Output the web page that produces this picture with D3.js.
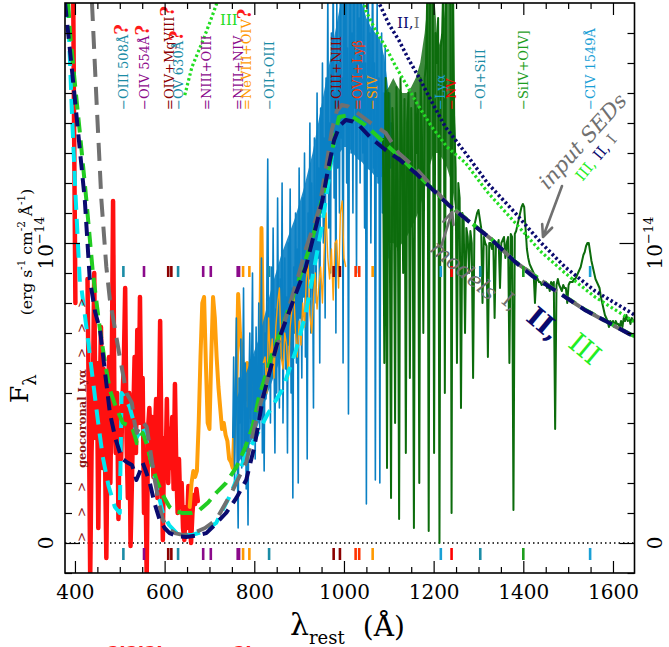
<!DOCTYPE html>
<html>
<head>
<meta charset="utf-8">
<script src="https://cdn.jsdelivr.net/npm/d3@7/dist/d3.min.js"></script>
<style>
  html,body{margin:0;padding:0;background:#fff;}
  svg{display:block;}
  text{font-family:"DejaVu Serif","Liberation Serif",serif;}
</style>
</head>
<body>
<svg id="chart" width="669" height="647"></svg>
<script>
// ---------- observed spectra: flux in 1e-14 erg s^-1 cm^-2 A^-1 on uniform wavelength grids ----------
const redStart = 386, redStep = 3;
const redFlux = [
  2.6, 2.4, 2.3, 2.1, 1.4, 0.80, null, null, null, null,
  null, null, null, null, 0.88, 0.45, -0.12, 0.30, 0.50, 0.90,
  0.35, 0.60, 0.05, 0.45, 0.72, 0.25, 0.58, 0.30, -0.05, 0.40,
  0.62, 0.20, 0.55, 1.14, 0.45, 0.30, 0.50, 0.08, 0.45, 0.28,
  0.48, 0.60, 0.85, 0.35, 0.15, 0.50, -0.01, 0.20, 0.42, 0.62,
  0.30, 0.71, 0.40, 0.82, 0.40, 0.55, 0.10, 0.30, -0.12, 0.38,
  0.45, 0.30, 0.42, 0.22, 0.35, 0.48, 0.15, 0.38, 0.74, 0.30,
  0.01, 0.35, 0.22, 0.48, 0.20, 0.38, 0.25, 0.42, 0.18, 0.53,
  0.25, 0.10, 0.28, 0.12, 0.20, 0.05, 0.01, 0.12, 0.05, 0.19,
  0.08, 0.00, 0.10, 0.16, 0.13, 0.18, 0.14
];

const orangeStart = 656, orangeStep = 4;
const orangeFlux = [
  0.12, 0.20, 0.24, 0.22, 0.24, 0.40, 0.62, 0.80, 0.82, 0.60,
  0.40, 0.38, 0.62, 0.82, 0.75, 0.62, 0.52, 0.45, 0.38, 0.40,
  0.36, 0.34, 0.28, 0.27, 0.25, 0.40, 0.51, 0.83, 0.70, 0.64,
  0.55, 0.48, 0.60, 0.42, 0.55, 0.45, 0.58, 0.42, 0.52, 0.48,
  1.05, 0.60
];

const orangeThinStart = 820, orangeThinStep = 4;
const orangeThinFlux = [
  0.60, 0.62, 0.50, 0.75, 0.60, 0.68, 0.55, 0.72, 0.80, 0.85,
  0.62, 0.58, 0.70, 0.66, 0.55, 0.72, 0.78, 0.84, 0.70, 0.62,
  0.74, 0.66, 0.80, 0.72, 0.88, 0.93, 0.76, 0.70, 0.82, 0.90,
  0.78, 0.86, 0.92, 0.80, 0.98, 1.10, 0.95, 0.88, 0.98, 0.81,
  1.00, 1.01, 0.85, 1.10, 1.14, 0.95, 0.92
];

const blueStart = 752, blueStep = 2;
const blueFlux = [
  0.35, 0.62, 0.20, 0.48, 0.75, 0.30, 0.05, 0.55, 0.40, 0.68, 0.25, 0.50, 0.85, 0.33, 0.60, 0.18, 0.45, 0.06, 0.52, 0.70,
  0.40, 0.58, 0.90, 0.35, 0.62, 0.28, 0.72, 0.50, 0.44, 0.80, 0.38, 0.66, 0.95, 0.30, 0.55, 0.24, 0.70, 0.48, 0.85, 1.28,
  0.60, 0.74, 0.40, 0.92, 0.55, 1.05, 0.62, 0.30, 0.78, 0.50, 1.15, 0.70, 0.45, 0.88, 0.62, 1.20, 0.40, 0.75, 0.95, 0.58,
  0.82, 0.30, 1.00, 0.66, 1.18, 0.50, 0.85, 0.15, 0.92, 0.70, 1.10, 0.60, 0.98, 0.20, 1.25, 0.75, 0.90, 0.55, 1.15, 0.82,
  1.30, 0.62, 0.95, 0.28, 1.10, 0.88, 1.40, 0.70, 1.20, 0.95, 0.45, 1.35, 1.05, 0.80, 1.50, 0.95, 1.25, 0.60, 1.45, 1.10,
  1.60, 1.00, 1.35, 0.75, 1.55, 1.20, 1.85, 1.05, 1.40, 0.90, 1.70, 1.30, 1.95, 1.15, 1.50, 0.70, 1.80, 1.25, 1.60, 1.10,
  1.90, 1.35, 1.55, 0.60, 1.85, 1.40, 1.95, 1.20, 1.65, 0.43, 1.50, 1.90, 1.30, 1.70, 1.10, 1.95, 1.45, 1.60, 0.90, 1.85,
  1.40, 1.75, 1.20, 1.95, 1.50, 1.30, 1.85, 1.05, 1.60, 0.13, 1.45, 1.90, 1.35, 1.70, 1.00, 1.55, 1.95, 1.25, 1.60, 0.21,
  1.40, 1.80, 1.20, 1.55, 0.20, 1.35, 1.70, 1.10, 1.50, 1.30, 1.65, 1.20, 1.45, 0.95, 1.35, 1.50, 1.25, 1.40, 1.30, 1.35
];
// densely sampled core of the blue spectrum (lower / upper envelope, 10 A steps)
const blueBandStart = 760, blueBandStep = 10;
const blueBandLow = [0.26,0.28,0.30,0.33,0.36,0.40,0.45,0.50,0.54,0.58,0.62,0.68,0.74,0.80,0.86,0.92,0.98,1.04,1.10,1.15,1.20,1.25,1.28,1.30,1.32,1.32,1.30,1.28,1.27,1.25,1.24,1.22,1.22,1.22,1.25];
const blueBandHigh = [0.48,0.52,0.56,0.60,0.64,0.68,0.74,0.80,0.86,0.91,0.96,1.00,1.04,1.08,1.13,1.18,1.24,1.30,1.38,1.46,1.54,1.62,1.70,1.78,1.85,1.85,1.85,1.85,1.80,1.75,1.72,1.70,1.68,1.62,1.50];

const greenStart = 1087, greenStep = 3;
const greenFlux = [
  1.35, 0.60, 1.55, 0.25, 1.50, 1.10, 0.15, 1.45, 1.30, 0.40,
  1.52, 1.20, 0.08, 1.55, 1.35, 0.90, 1.48, 0.30, 1.40, 1.50,
  0.55, 1.45, 1.20, 0.05, 1.50, 1.30, 1.45, 0.20, 1.55, 1.35,
  0.70, 1.55, 1.60, 1.85, 0.04, 1.90, 2.00, 1.80, 0.30, 1.70,
  1.60, 1.75, 0.00, 1.65, 1.70, 1.90, 0.50, 2.00, 2.00, 1.95,
  2.00, 0.10, 1.90, 1.40, 1.25, 0.60, 1.20, 1.15, 0.45, 1.10,
  1.08, 0.70, 1.05, 1.02, 0.90, 1.04, 1.00, 0.55, 1.06, 1.08,
  1.10, 1.11, 1.08, 1.05, 0.80, 1.02, 1.00, 0.99, 0.62, 1.00,
  1.00, 0.98, 1.01, 0.75, 1.00, 0.99, 1.01, 0.85, 1.00, 1.01,
  1.02, 0.95, 1.00, 1.02, 0.60, 1.03, 1.02, 0.11, 1.03, 1.04,
  1.06, 1.08, 1.10, 1.12, 1.13, 1.12, 1.05, 0.98, 0.95, 0.93,
  0.92, 0.91, 0.90, 0.80, 0.89, 0.88, 0.87, 0.87, 0.86, 0.87,
  0.86, 0.87, 0.85, 0.86, 0.84, 0.87, 0.86, 0.87, 0.38, 0.86,
  0.88, 0.86, 0.85, 0.84, 0.86, 0.85, 0.85, 0.80, 0.86, 0.87,
  0.87, 0.87, 0.88, 0.88, 0.89, 0.90, 0.91, 0.92, 0.94, 0.96,
  0.97, 0.99, 1.00, 1.00, 0.97, 0.94, 0.92, 0.90, 0.88, 0.87,
  0.86, 0.85, 0.82, 0.80, 0.78, 0.76, 0.75, 0.74, 0.72, 0.74,
  0.73, 0.74, 0.72, 0.74, 0.73, 0.73, 0.72, 0.74, 0.72, 0.75,
  0.74, 0.76, 0.74, 0.75, 0.73, 0.75, 0.74
];
// densely sampled core of the green spectrum (lower / upper envelope, 10 A steps)
const greenBandStart = 1090, greenBandStep = 10;
const greenBandLow = [1.05,1.00,1.00,0.98,1.00,1.02,1.05,1.08,1.12,1.18,1.25,1.30,1.30,1.28,1.25,1.20,1.10];
const greenBandHigh = [1.50,1.52,1.55,1.52,1.50,1.50,1.52,1.55,1.60,1.70,1.85,1.85,1.65,1.70,1.85,1.85,1.30];

// ---------- model spectra [wavelength, flux] ----------
const modelI = [[438,1.8],[448,1.477],[459,1.143],[470,0.92],[478,0.81],[492,0.69],[500,0.62],[515,0.5],[527,0.467],[533,0.40],[538,0.367],[545,0.39],[551,0.403],[560,0.387],[570,0.29],[578,0.21],[588,0.13],[596,0.077],[610,0.045],[625,0.032],[640,0.027],[660,0.03],[690,0.05],[715,0.077],[750,0.17],[782,0.27],[811,0.45],[840,0.6],[870,0.75],[900,0.9],[915,0.98],[944,1.11],[960,1.25],[973,1.377],[984,1.44],[995,1.46],[1010,1.455],[1033,1.43],[1060,1.40],[1093,1.367],[1122,1.30],[1160,1.25],[1233,1.127],[1326,1.016],[1381,0.938],[1470,0.843],[1537,0.777],[1641,0.693],[1648,0.688]];
const modelII = [[378,1.8],[389,1.64],[400,1.477],[411,1.31],[422,1.143],[433,0.88],[445,0.77],[456,0.71],[467,0.57],[478,0.433],[490,0.35],[504,0.283],[515,0.27],[527,0.26],[532,0.24],[537,0.21],[544,0.235],[551,0.267],[558,0.24],[567,0.2],[578,0.13],[589,0.077],[600,0.05],[611,0.033],[630,0.022],[648,0.02],[670,0.025],[693,0.033],[715,0.065],[737,0.1],[760,0.15],[782,0.21],[800,0.32],[811,0.41],[818,0.477],[850,0.66],[880,0.78],[915,0.92],[935,1.04],[952,1.143],[965,1.25],[978,1.343],[990,1.39],[1004,1.41],[1020,1.405],[1033,1.393],[1060,1.35],[1093,1.31],[1122,1.28],[1160,1.233],[1233,1.127],[1280,1.07],[1326,1.016],[1381,0.938],[1420,0.89],[1470,0.843],[1537,0.777],[1590,0.735],[1641,0.693],[1648,0.688]];
const modelIII = [[385,1.8],[389,1.7],[400,1.53],[411,1.367],[425,1.15],[440,0.9],[455,0.72],[467,0.6],[478,0.51],[492,0.45],[507,0.4],[527,0.387],[533,0.36],[538,0.333],[545,0.35],[551,0.367],[560,0.33],[570,0.27],[582,0.21],[596,0.16],[611,0.12],[625,0.105],[640,0.1],[660,0.1],[678,0.11],[697,0.135],[715,0.167],[737,0.2],[760,0.253],[780,0.32],[796,0.387],[811,0.49],[840,0.63],[870,0.753],[900,0.88],[929,1.01],[950,1.14],[967,1.253],[980,1.36],[989,1.42],[1011,1.427],[1030,1.41],[1048,1.393],[1093,1.33],[1122,1.29],[1160,1.235],[1233,1.128],[1326,1.017],[1381,0.939],[1470,0.844],[1537,0.778],[1641,0.694],[1648,0.689]];
const modelCyan = [[384,1.8],[393,1.443],[400,1.2],[411,0.867],[415,0.843],[428,0.69],[440,0.543],[451,0.41],[462,0.287],[475,0.19],[489,0.12],[500,0.1],[502,0.3],[504,0.5],[513,0.48],[522,0.453],[530,0.41],[538,0.353],[545,0.37],[551,0.387],[560,0.34],[573,0.253],[585,0.17],[596,0.1],[610,0.06],[627,0.033],[645,0.027],[662,0.027],[690,0.04],[715,0.067],[744,0.153],[760,0.21],[780,0.29],[796,0.333],[830,0.43],[862,0.51],[870,0.543],[893,0.643],[915,0.767],[930,0.887],[950,1.05],[965,1.2],[978,1.343]];

// ---------- input SEDs [wavelength, flux] ----------
const sedII = [[1075,1.81],[1100,1.73],[1122,1.677],[1145,1.61],[1167,1.553],[1196,1.47],[1226,1.387],[1271,1.3],[1320,1.2],[1382,1.1],[1440,1.0],[1493,0.92],[1560,0.84],[1641,0.767],[1648,0.76]];
const sedIII = [[1044,1.81],[1048,1.777],[1070,1.71],[1093,1.653],[1115,1.59],[1137,1.533],[1165,1.46],[1196,1.387],[1230,1.32],[1271,1.267],[1320,1.17],[1382,1.067],[1440,0.97],[1493,0.9],[1560,0.82],[1641,0.743],[1648,0.737]];
const sedIIIBlue = [[645,1.493],[661,1.587],[686,1.677],[702,1.74],[719,1.81]];

// ---------- emission line identifications ----------
const lineNames = ["OIII 508Å","OIV 554Å","OIV+MgVIII","OV 630Å","NIII+OIII","NIII+NIV","NeVIII+OIV","OII+OIII","CIII+NIII","OVI+Lyβ","SIV","Lyα","NV","OI+SiII","SiIV+OIV]","CIV 1549Å"];
const lineWaves = [[508],[554],[608,615],[630],[686,703],[763,766],[775,789],[833],[977,991],[1026,1034],[1064],[1216],[1240],[1304],[1400],[1549]];
const lineColors = ["#1b8ca6","#8b0a8b","#8b0000","#1b8ca6","#8b0a8b","#8b0a8b","#ff9900","#1b8ca6","#8b0000","#ff3300","#ff9900","#1aa0d6","#ff0000","#1b8ca6","#1e9e1e","#1aa0d6"];
const lineQuery = [true,true,true,true,false,false,true,false,false,false,false,false,false,false,false,false];

// ---------- axis ticks ----------
const xMajor = [400,600,800,1000,1200,1400,1600];
const xMinor = [450,500,550,650,700,750,850,900,950,1050,1100,1150,1250,1300,1350,1450,1500,1550];
const yMajor = [0,1];
const yMinor = [-0.1,0.1,0.2,0.3,0.4,0.5,0.6,0.7,0.8,0.9,1.1,1.2,1.3,1.4,1.5,1.6,1.7];
const geoMarks = [303,328,353,487,512,537];

// ---------- layout ----------
const svg = d3.select("#chart");
const P = {left:65, right:634.5, top:3, bottom:573};
const x = d3.scaleLinear().domain([377.8,1648]).range([P.left,P.right]);
const y = d3.scaleLinear().domain([-0.1,1.8]).range([P.bottom,P.top]);

svg.append("defs").append("clipPath").attr("id","plotClip")
  .append("rect").attr("x",P.left).attr("y",P.top).attr("width",P.right-P.left).attr("height",P.bottom-P.top);

const grid = (start, step, vals) => vals.map((v,i) => [start + i*step, v]);
const line = d3.line().defined(d => d[1] !== null).x(d => x(d[0])).y(d => y(d[1]));
const band = d3.area().x(d => x(d[0])).y0(d => y(d[1])).y1(d => y(d[2]));
const bandData = (start, step, lo, hi) => lo.map((v,i) => [start + i*step, v, hi[i]]);

const plot = svg.append("g").attr("clip-path","url(#plotClip)");

// zero level
plot.append("line").attr("x1",P.left).attr("x2",P.right).attr("y1",y(0)).attr("y2",y(0))
  .attr("stroke","#000").attr("stroke-width",1.3).attr("stroke-dasharray","1.5,3");

function drawPath(data, color, width, dash) {
  const p = plot.append("path").datum(data).attr("d", line)
    .attr("fill","none").attr("stroke",color).attr("stroke-width",width)
    .attr("stroke-linejoin","round");
  if (dash) p.attr("stroke-dasharray", dash);
  return p;
}

// observed spectra
drawPath(grid(redStart, redStep, redFlux), "#ff1010", 4.5).attr("stroke-linecap","round");
drawPath(grid(orangeStart, orangeStep, orangeFlux), "#ff9f0a", 4).attr("stroke-linecap","round");
plot.append("path").datum(bandData(blueBandStart, blueBandStep, blueBandLow, blueBandHigh))
  .attr("d", band).attr("fill","#0a80c4").attr("opacity",0.9);
drawPath(grid(blueStart, blueStep, blueFlux), "#0a80c4", 1.6);
drawPath(grid(orangeThinStart, orangeThinStep, orangeThinFlux), "#ff9f0a", 1.4);
plot.append("path").datum(bandData(greenBandStart, greenBandStep, greenBandLow, greenBandHigh))
  .attr("d", band).attr("fill","#0c6c0c").attr("opacity",0.8);
drawPath(grid(greenStart, greenStep, greenFlux), "#0c6c0c", 2);

// input SEDs (dotted)
drawPath(sedIIIBlue, "#22dd22", 3.2, "2.5,2.5");
drawPath(sedIII, "#22dd22", 3.2, "2.5,2.5");
drawPath(sedII, "#0a0a6e", 3.6, "2.5,2.5");

// models (dashed)
drawPath(modelCyan, "#00e6f0", 4, "15,9");
drawPath(modelIII, "#22cc22", 4, "15,8");
drawPath(modelI, "#707070", 4, "18,10");
drawPath(modelII, "#0a0a6e", 4, "14,8");

// line-identification tick rows
const tickRows = [[266,277],[548,560]];
lineWaves.forEach((ws,i) => ws.forEach(w => tickRows.forEach(([y0,y1]) => {
  svg.append("line").attr("x1",x(w)).attr("x2",x(w)).attr("y1",y0).attr("y2",y1)
    .attr("stroke",lineColors[i]).attr("stroke-width",2.6);
})));

// line labels (vertical)
lineNames.forEach((name,i) => {
  const cx = x(d3.mean(lineWaves[i]));
  const t = svg.append("text").attr("transform",`translate(${cx+4.5},110) rotate(-90)`)
    .attr("font-size",13).attr("fill",lineColors[i]);
  t.append("tspan").text((lineWaves[i].length > 1 ? "=" : "−") + name);
  if (lineQuery[i]) t.append("tspan").attr("fill","#ff1a1a").attr("font-weight","bold").attr("font-size",18).text("?");
});

// geocoronal Ly-alpha marker
svg.append("text").attr("transform","translate(86,468) rotate(-90)")
  .attr("font-size",11.5).attr("font-weight","bold").attr("fill","#8b1a1a").text("geocoronal Lyα");
geoMarks.forEach(gy => {
  svg.append("text").attr("transform",`translate(86,${gy}) rotate(-90)`)
    .attr("font-size",12).attr("text-anchor","middle").attr("fill","#8b1a1a").text(">");
});

// ---------- axes ----------
function styleAxis(g){
  g.select(".domain").remove();
  g.selectAll(".tick line").attr("stroke","#000").attr("stroke-width",1.2);
  g.selectAll("text").attr("font-family","DejaVu Serif, serif").attr("font-size",20).attr("fill","#000");
}
svg.append("g").attr("transform",`translate(0,${P.bottom})`)
  .call(d3.axisBottom(x).tickValues(xMajor).tickSize(-12).tickPadding(12).tickFormat(d3.format("d"))).call(styleAxis);
svg.append("g").attr("transform",`translate(0,${P.bottom})`)
  .call(d3.axisBottom(x).tickValues(xMinor).tickSize(-6).tickFormat("")).call(styleAxis);
svg.append("g").attr("transform",`translate(0,${P.top})`)
  .call(d3.axisTop(x).tickValues(xMajor).tickSize(-12).tickFormat("")).call(styleAxis);
svg.append("g").attr("transform",`translate(0,${P.top})`)
  .call(d3.axisTop(x).tickValues(xMinor).tickSize(-6).tickFormat("")).call(styleAxis);
svg.append("g").attr("transform",`translate(${P.left},0)`)
  .call(d3.axisLeft(y).tickValues(yMajor).tickSize(-15).tickFormat("")).call(styleAxis);
svg.append("g").attr("transform",`translate(${P.left},0)`)
  .call(d3.axisLeft(y).tickValues(yMinor).tickSize(-7).tickFormat("")).call(styleAxis);
svg.append("g").attr("transform",`translate(${P.right},0)`)
  .call(d3.axisRight(y).tickValues(yMajor).tickSize(-15).tickFormat("")).call(styleAxis);
svg.append("g").attr("transform",`translate(${P.right},0)`)
  .call(d3.axisRight(y).tickValues(yMinor).tickSize(-7).tickFormat("")).call(styleAxis);

svg.append("rect").attr("x",P.left).attr("y",P.top).attr("width",P.right-P.left).attr("height",P.bottom-P.top)
  .attr("fill","none").attr("stroke","#000").attr("stroke-width",1.6);

// rotated y tick labels on both sides
[[53],[662]].forEach(([bx]) => {
  svg.append("text").attr("transform",`translate(${bx},${y(0)}) rotate(-90)`)
    .attr("text-anchor","middle").attr("font-size",20).text("0");
  const t = svg.append("text").attr("transform",`translate(${bx},${y(1)}) rotate(-90)`)
    .attr("text-anchor","middle").attr("font-size",20);
  t.append("tspan").text("10");
  t.append("tspan").attr("font-size",13).attr("dy",-9).text("−14");
});

// axis titles
const xt = svg.append("text").attr("x",290).attr("y",635);
xt.append("tspan").attr("font-size",30).text("λ");
xt.append("tspan").attr("font-size",18).attr("dy",9).text("rest");
xt.append("tspan").attr("font-size",28).attr("dy",-8).attr("dx",18).text("(Å)");

const yt = svg.append("text").attr("transform","translate(28,403) rotate(-90)");
yt.append("tspan").attr("font-size",25).text("F");
yt.append("tspan").attr("font-size",18).attr("dy",8).text("λ");

const yu = svg.append("text").attr("transform","translate(32,252) rotate(-90)")
  .attr("text-anchor","middle").attr("font-size",15.5);
yu.append("tspan").text("(erg s");
yu.append("tspan").attr("font-size",10.5).attr("dy",-7).text("-1");
yu.append("tspan").attr("dy",7).text(" cm");
yu.append("tspan").attr("font-size",10.5).attr("dy",-7).text("-2");
yu.append("tspan").attr("dy",7).text(" Å");
yu.append("tspan").attr("font-size",10.5).attr("dy",-7).text("-1");
yu.append("tspan").attr("dy",7).text(")");

// ---------- annotations ----------
svg.append("text").attr("x",220).attr("y",25).attr("font-size",15).attr("fill","#22dd22").text("III");
const t2 = svg.append("text").attr("x",397).attr("y",28).attr("font-size",15);
t2.append("tspan").attr("fill","#0a0a6e").text("II,");
t2.append("tspan").attr("fill","#707070").text("I");

function arrow(x1,y1,x2,y2){
  const a = Math.atan2(y2-y1, x2-x1), L = 13, s = 0.42;
  const path = `M${x1},${y1}L${x2},${y2}M${x2-L*Math.cos(a-s)},${y2-L*Math.sin(a-s)}L${x2},${y2}L${x2-L*Math.cos(a+s)},${y2-L*Math.sin(a+s)}`;
  svg.append("path").attr("d",path).attr("fill","none").attr("stroke","#707070").attr("stroke-width",2.6)
    .attr("stroke-linecap","round").attr("stroke-linejoin","round");
}
arrow(562,186,543,237);
arrow(441,247,452,212);

svg.append("text").attr("transform","translate(588,146) rotate(-48)").attr("text-anchor","middle")
  .attr("font-size",21).attr("font-style","italic").attr("fill","#707070").text("input SEDs");
const sedLab = svg.append("text").attr("transform","translate(600,161) rotate(-50)").attr("text-anchor","middle").attr("font-size",15);
sedLab.append("tspan").attr("fill","#22ee22").text("III,");
sedLab.append("tspan").attr("fill","#0a0a6e").text(" II,");
sedLab.append("tspan").attr("fill","#707070").text(" I");

svg.append("text").attr("transform","translate(459,276) rotate(40)").attr("text-anchor","middle")
  .attr("font-size",22).attr("font-style","italic").attr("fill","#707070").text("models");
svg.append("text").attr("transform","translate(506,307) rotate(40)").attr("text-anchor","middle")
  .attr("font-size",21).attr("fill","#707070").text("I,");
svg.append("text").attr("transform","translate(538,331) rotate(40)").attr("text-anchor","middle")
  .attr("font-size",27).attr("font-weight","bold").attr("fill","#0a0a6e").text("II,");
svg.append("text").attr("transform","translate(579,356) rotate(40)").attr("text-anchor","middle")
  .attr("font-size",27).attr("fill","#22ee22").text("III");

// lower-edge flags
svg.append("text").attr("x",108).attr("y",660).attr("font-size",18).attr("font-weight","bold").attr("fill","#ff1a1a").text("?!?!?!");
svg.append("text").attr("x",234).attr("y",660).attr("font-size",18).attr("font-weight","bold").attr("fill","#ff1a1a").text("?!");
</script>
</body>
</html>
